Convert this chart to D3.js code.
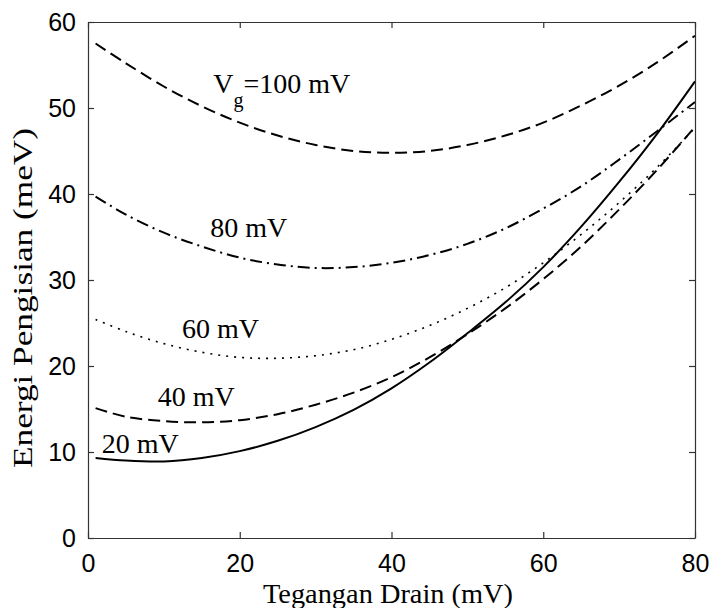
<!DOCTYPE html>
<html lang="en">
<head>
    <meta charset="UTF-8">
    <title>Energi Pengisian</title>
    <script src="https://cdn.jsdelivr.net/npm/d3@7"></script>
    <style>
        body { margin: 0; background: #fff; }
        #chart { width: 714px; height: 608px; }
        .tick text { font-family: "Liberation Sans", Arial, sans-serif; }
        .lbl { font-family: "Liberation Serif", "Times New Roman", serif; fill: #000; }
    </style>
</head>
<body>
<div id="chart"></div>
<script type="text/javascript">
    // drain voltage (mV)
    var vd = [1, 5, 10, 15, 20, 25, 30, 35, 40, 45, 50, 55, 60, 65, 70, 75, 80];
    // charging energy (meV) for each gate voltage
    var e20  = [9.3, 9.0, 8.9, 9.3, 10.1, 11.3, 12.9, 14.9, 17.4, 20.4, 23.8, 27.4, 31.5, 36.2, 41.4, 47.0, 53.1];
    var e40  = [15.1, 14.1, 13.6, 13.45, 13.7, 14.4, 15.5, 16.9, 18.7, 21.0, 23.7, 26.7, 30.1, 33.9, 38.2, 42.8, 47.8];
    var e60  = [25.4, 24.0, 22.6, 21.6, 21.0, 20.9, 21.2, 21.9, 23.1, 24.7, 26.7, 29.1, 32.0, 35.3, 39.0, 43.1, 47.7];
    var e80  = [39.7, 37.6, 35.5, 33.9, 32.6, 31.8, 31.4, 31.5, 32.0, 32.9, 34.2, 36.0, 38.3, 40.9, 44.0, 47.3, 50.7];
    var e100 = [57.5, 55.2, 52.5, 50.2, 48.3, 46.8, 45.7, 45.0, 44.8, 45.0, 45.7, 46.8, 48.3, 50.3, 52.6, 55.3, 58.4];
    var xTicks = [0, 20, 40, 60, 80];
    var yTicks = [0, 10, 20, 30, 40, 50, 60];

    var svgw = 714, svgh = 608;
    var m = {left: 88, top: 22, right: 19, bottom: 70};
    var w = svgw - m.left - m.right;
    var h = svgh - m.top - m.bottom;

    var svg = d3.select('#chart')
        .append('svg')
        .attr('width', svgw)
        .attr('height', svgh);

    var g = svg.append('g').attr('transform', 'translate(' + m.left + ',' + m.top + ')');

    var x = d3.scaleLinear().domain([0, 80]).range([0, w]);
    var y = d3.scaleLinear().domain([0, 60]).range([h, 0]);

    // curves
    var series = [
        {v: e20,  dash: null},
        {v: e40,  dash: '12,6'},
        {v: e60,  dash: '2,6'},
        {v: e80,  dash: '12,5,2,5'},
        {v: e100, dash: '12,6'}
    ];
    var line = d3.line()
        .x(function (d) { return x(d[0]); })
        .y(function (d) { return y(d[1]); })
        .curve(d3.curveCatmullRom.alpha(0.5));

    g.selectAll('path.curve')
        .data(series)
        .enter()
        .append('path')
        .attr('class', 'curve')
        .attr('d', function (s) {
            return line(vd.map(function (v, i) { return [v, s.v[i]]; }));
        })
        .attr('fill', 'none')
        .attr('stroke', '#000')
        .attr('stroke-width', function (s) { return s.dash === '2,6' ? 1.6 : 2; })
        .attr('stroke-dasharray', function (s) { return s.dash; });

    // axes (box with inward ticks)
    function styleAxis(sel) {
        sel.select('.domain').attr('stroke', '#333').attr('stroke-width', 1.2);
        sel.selectAll('.tick line').attr('stroke', '#333').attr('stroke-width', 1.2);
    }
    g.append('g')
        .attr('transform', 'translate(0,' + h + ')')
        .call(d3.axisBottom(x).tickValues(xTicks).tickSizeInner(-6).tickSizeOuter(0).tickPadding(16))
        .call(styleAxis)
        .selectAll('text').attr('font-size', 25).attr('fill', '#000');
    g.append('g')
        .call(d3.axisLeft(y).tickValues(yTicks).tickSizeInner(-6).tickSizeOuter(0).tickPadding(12))
        .call(styleAxis)
        .selectAll('text').attr('font-size', 25).attr('fill', '#000');
    g.append('g')
        .call(d3.axisTop(x).tickValues(xTicks).tickSizeInner(-6).tickSizeOuter(0).tickFormat(''))
        .call(styleAxis);
    g.append('g')
        .attr('transform', 'translate(' + w + ',0)')
        .call(d3.axisRight(y).tickValues(yTicks).tickSizeInner(-6).tickSizeOuter(0).tickFormat(''))
        .call(styleAxis);

    // axis titles
    svg.append('text')
        .attr('class', 'lbl')
        .attr('x', 388)
        .attr('y', 603)
        .attr('text-anchor', 'middle')
        .attr('font-size', 27)
        .attr('textLength', 250)
        .attr('lengthAdjust', 'spacingAndGlyphs')
        .text('Tegangan Drain (mV)');
    svg.append('text')
        .attr('class', 'lbl')
        .attr('transform', 'translate(32,298) rotate(-90)')
        .attr('text-anchor', 'middle')
        .attr('font-size', 27)
        .attr('textLength', 340)
        .attr('lengthAdjust', 'spacingAndGlyphs')
        .text('Energi Pengisian (meV)');

    // curve labels
    var t100 = g.append('text')
        .attr('class', 'lbl')
        .attr('x', x(16.5))
        .attr('y', y(51.7))
        .attr('font-size', 28);
    t100.append('tspan').text('V');
    t100.append('tspan').attr('font-size', 20).attr('dy', 14).text('g');
    t100.append('tspan').attr('dy', -14).text('=100 mV');

    var labels = [['80 mV', 16.1, 35.0], ['60 mV', 12.4, 23.3], ['40 mV', 9.2, 15.3], ['20 mV', 1.8, 9.9]];
    g.selectAll('text.cl')
        .data(labels)
        .enter()
        .append('text')
        .attr('class', 'lbl cl')
        .attr('x', function (d) { return x(d[1]); })
        .attr('y', function (d) { return y(d[2]); })
        .attr('font-size', 28)
        .text(function (d) { return d[0]; });
</script>
</body>
</html>
